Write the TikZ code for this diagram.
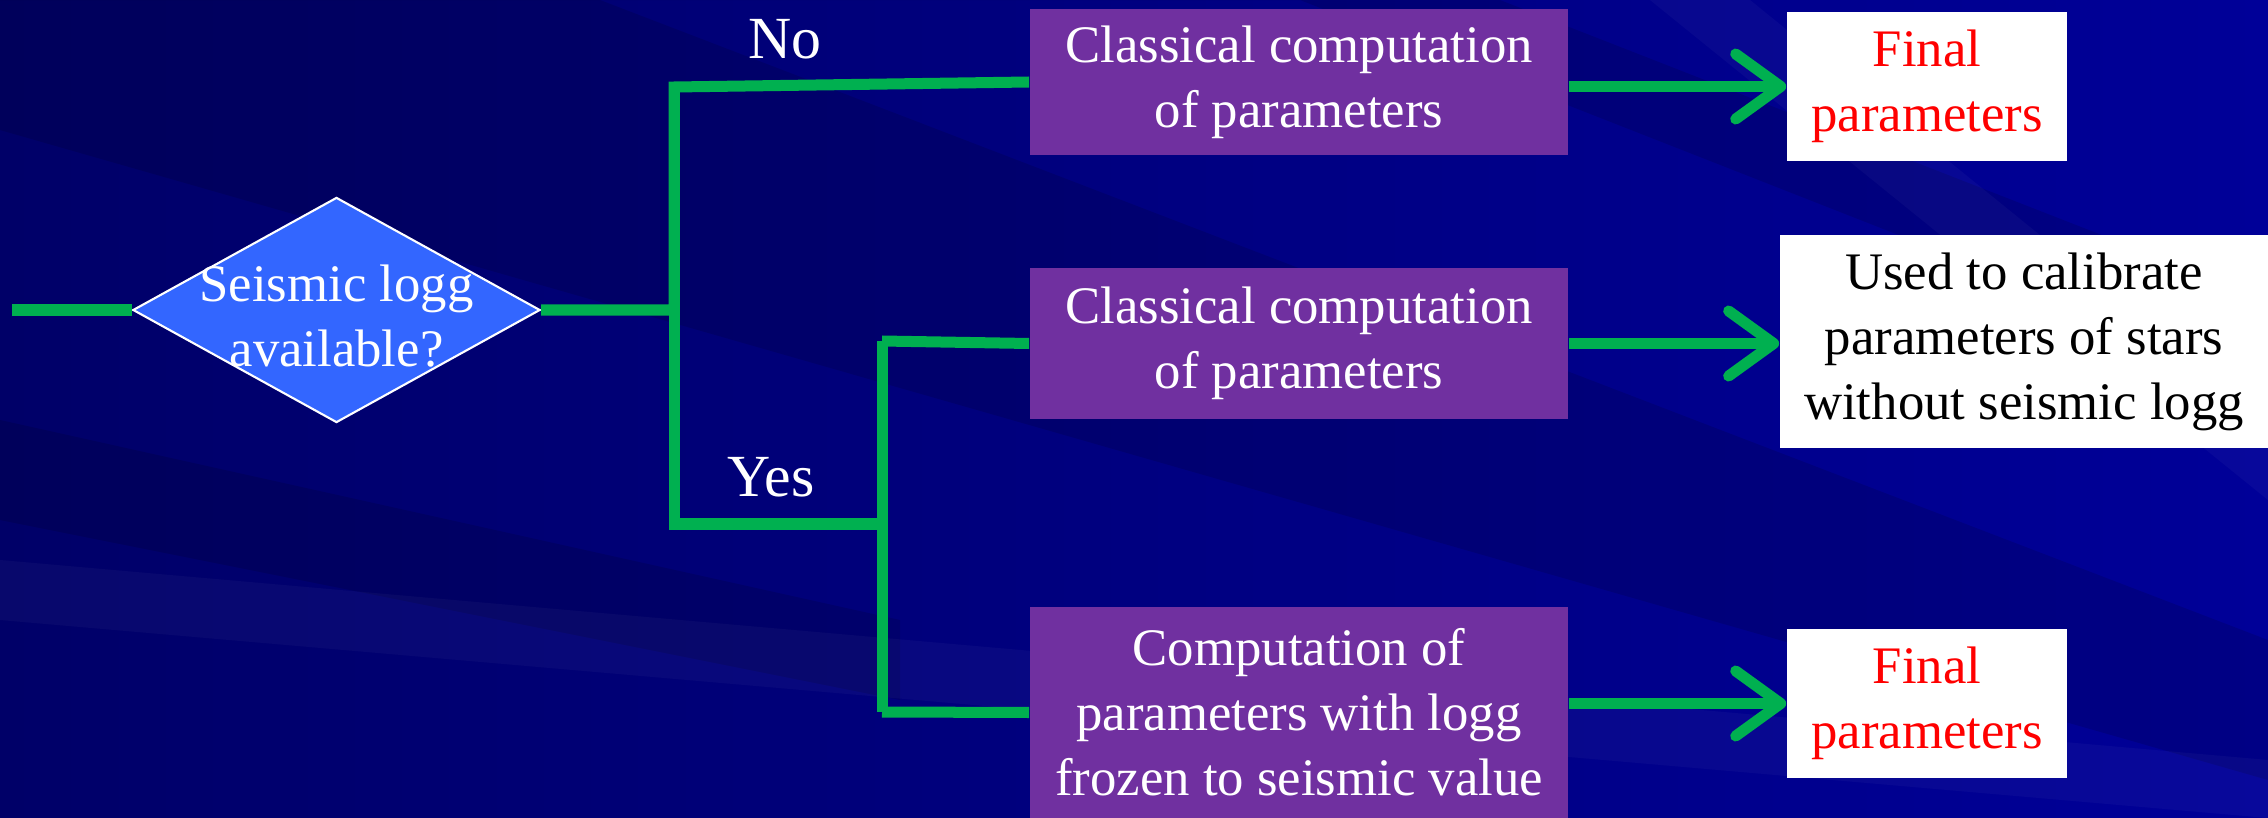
\documentclass[tikz,border=0pt]{standalone}
\usepackage{fontspec}
\setmainfont{Liberation Serif}
\usetikzlibrary{arrows.meta,positioning,shapes.geometric}
\definecolor{Navy}{HTML}{000068}
\definecolor{Deep}{HTML}{000098}
\definecolor{Leaf}{HTML}{00B050}
\definecolor{Plum}{HTML}{7030A0}
\definecolor{Sky}{HTML}{3366FF}
\definecolor{Alert}{HTML}{FF0000}
\tikzset{
  txt/.style={font=\fontsize{15}{18.5}\selectfont,align=center,inner sep=0pt},
  proc/.style={txt,fill=Plum,text=white,minimum width=5.38cm},
  result/.style={txt,fill=white,text=Alert,minimum width=2.8cm,minimum height=1.49cm},
  decision/.style={diamond,fill=Sky,draw=white,line width=.6pt,minimum width=4.07cm,minimum height=2.25cm,inner sep=0pt},
  wire/.style={draw=Leaf,line width=1.1mm},
  flow/.style={wire,-{Straight Barb[round,length=4.5mm,width=6.5mm]}},
  answer/.style={font=\fontsize{17}{20}\selectfont,text=white,inner sep=0pt},
  streak/.style={fill=black,opacity=.12},
  glint/.style={fill=white,opacity=.03}
}

\begin{document}
\begin{tikzpicture}[x=0.01cm,y=-0.01cm]
  % backdrop
  \fill[left color=Navy,right color=Deep] (0,0) rectangle (2268,818);
  \fill[streak] (0,0) -- (0,130) -- (2268,780) -- (2268,640) -- (600,0) -- cycle;
  \fill[streak] (0,0) -- (1300,0) -- (2268,380) -- (2268,300) -- (1500,0) -- cycle;
  \fill[streak] (0,420) -- (0,520) -- (900,700) -- (900,620) -- cycle;
  \fill[glint] (0,560) -- (0,620) -- (2268,818) -- (2268,760) -- cycle;
  \fill[glint] (1650,0) -- (1750,0) -- (2268,420) -- (2268,500) -- cycle;
  \useasboundingbox (0,0) rectangle (2268,818);

  \node[decision] (query) at (336.5,310) {};
  \node[txt,text=white] (querytext) at (336.5,316) {Seismic logg\\available?};

  \node[proc,minimum height=1.46cm] (classic) at (1299,82) {Classical computation\\of parameters};
  \node[proc,minimum height=1.51cm] (classic2) at (1299,343.5) {Classical computation\\of parameters};
  \node[proc,minimum height=2.11cm] (frozen) at (1299,712.5) {Computation of\\parameters with logg\\frozen to seismic value};

  \node[result] (final1) at (1927,86.5) {Final\\parameters};
  \node[result,text=black,minimum width=4.88cm,minimum height=2.13cm] (calib) at (2024,341.5)
    {Used to calibrate\\parameters of stars\\without seismic logg};
  \node[result] (final2) at (1927,703.5) {Final\\parameters};

  \node[answer] (no) at (785,39) {No};
  \node[answer] (yes) at (771,477) {Yes};

  \coordinate (start) at (12,310);
  \coordinate (splitT) at (674,87);
  \coordinate (fork) at (882,524);
  \coordinate (forkT) at (882,341);
  \coordinate (forkB) at (882,712);

  \draw[wire] (start) -- (query.west);
  \draw[wire] (query.east) -| (splitT) -- (classic.west);
  \draw[wire] (splitT) |- (fork);
  \draw[wire] (forkT) -- (forkB);
  \draw[wire] (forkT) -- (classic2.west);
  \draw[wire] (forkB) -- (frozen.west);

  \draw[flow] (classic.east |- final1.west) -- (final1.west);
  \draw[flow] (classic2.east) -- (classic2.east -| calib.west);
  \draw[flow] (frozen.east |- final2.west) -- (final2.west);
\end{tikzpicture}
\end{document}
